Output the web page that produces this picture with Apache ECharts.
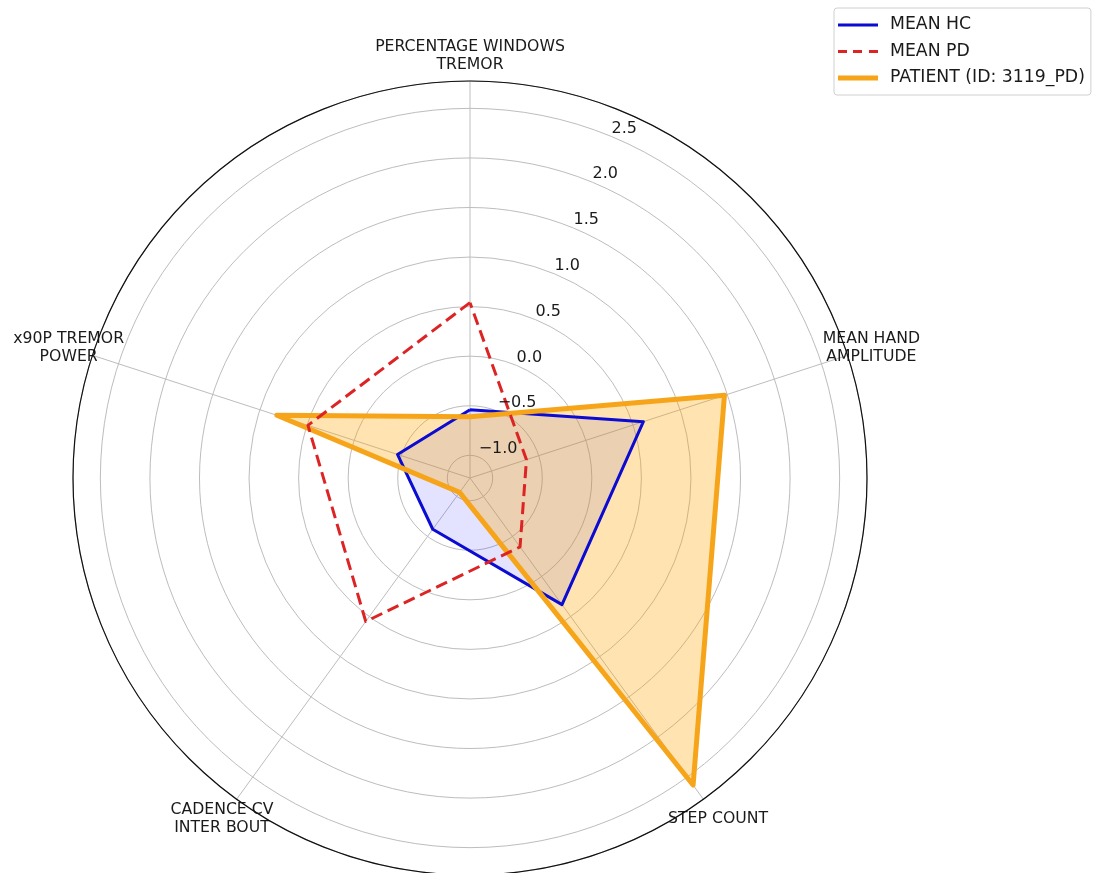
<!DOCTYPE html>
<html><head><meta charset="utf-8">
<script src="https://cdn.jsdelivr.net/npm/echarts@6/dist/echarts.min.js"></script>
<style>html,body{margin:0;padding:0;background:#fff}#chart{width:1096px;height:873px}</style>
</head><body><div id="chart"></div>
<script>
// Axes listed counter-clockwise starting from the top
const categories = ['PERCENTAGE WINDOWS\nTREMOR', 'x90P TREMOR\nPOWER', 'CADENCE CV\nINTER BOUT', 'STEP COUNT', 'MEAN HAND\nAMPLITUDE'];
const meanHC  = [-0.54, -0.46, -0.59, 0.35, 0.61];
const meanPD  = [0.54, 0.49, 0.56, -0.37, -0.63];
const patient = [-0.61, 0.82, -1.05, 2.60, 1.47];
const seriesNames = ['MEAN HC', 'MEAN PD', 'PATIENT (ID: 3119_PD)'];
const radialTicks = [-1.0, -0.5, 0.0, 0.5, 1.0, 1.5, 2.0, 2.5];
const rMin = -1.229, rMax = 2.776;

const FONT = 'DejaVu Sans';
const TXT = '#1a1a1a';
const GRID = '#bdbdbd';
const C = ['#0b0bd2', '#dd2424', '#f6a51a'];
const center = [470, 478];
const R = 397;
const step = 360 / categories.length;

const chart = echarts.init(document.getElementById('chart'), null, {renderer: 'canvas'});
const fmtTick = v => radialTicks.some(t => Math.abs(t - v) < 1e-6) ? Number(v).toFixed(1).replace('-', '\u2212') : '';

const radarCommon = {type: 'radar', symbol: 'none', silent: true};

chart.setOption({
  animation: false,
  backgroundColor: '#fff',
  legend: {
    orient: 'vertical', left: 834, top: 8,
    padding: [7, 6, 7, 4],
    backgroundColor: '#fff', borderColor: '#d0d0d0', borderWidth: 1, borderRadius: 3,
    itemWidth: 40, itemHeight: 14, itemGap: 6.5,
    textStyle: {fontFamily: FONT, fontSize: 17.3, color: TXT, lineHeight: 20, padding: [0, 0, 0, 7]},
    data: [
      {name: seriesNames[0], icon: 'path://M0,0H40V3H0Z', itemStyle: {color: C[0]}},
      {name: seriesNames[1], icon: 'path://M0,0H9V3H0Z M15,0H24V3H15Z M31,0H40V3H31Z', itemStyle: {color: C[1]}},
      {name: seriesNames[2], icon: 'path://M0,0H40V5H0Z', itemStyle: {color: C[2]}}
    ]
  },
  polar: [
    {center: center, radius: R},
    {center: center, radius: R}
  ],
  angleAxis: [
    {
      polarIndex: 0, type: 'value', min: 0, max: 360, interval: step,
      startAngle: 90, clockwise: false,
      axisLine: {show: true, lineStyle: {color: '#111', width: 1.2}},
      axisTick: {show: false},
      axisLabel: {show: false},
      splitLine: {show: true, lineStyle: {color: GRID, width: 1}}
    },
    {
      polarIndex: 1, type: 'value', min: 0, max: 360, startAngle: 67.5,
      axisLine: {show: false}, axisTick: {show: false}, axisLabel: {show: false}, splitLine: {show: false}
    }
  ],
  radiusAxis: [
    {
      polarIndex: 0, type: 'value', min: rMin, max: rMax, splitNumber: 8,
      axisLine: {show: false}, axisTick: {show: false}, axisLabel: {show: false},
      splitLine: {show: true, lineStyle: {color: GRID, width: 1}}
    },
    {
      polarIndex: 1, type: 'value', min: rMin, max: rMax, splitNumber: 8, z: 10,
      axisLine: {show: false}, axisTick: {show: false}, splitLine: {show: false},
      axisLabel: {show: true, margin: 0, align: 'left', verticalAlign: 'bottom', rotate: 0,
        showMinLabel: false, showMaxLabel: false,
        fontFamily: FONT, fontSize: 16, color: TXT, formatter: fmtTick}
    }
  ],
  radar: {
    center: center, radius: R, startAngle: 90, shape: 'circle',
    indicator: categories.map(n => ({name: n, min: rMin, max: rMax})),
    axisName: {show: false},
    axisLine: {show: false}, axisTick: {show: false}, axisLabel: {show: false},
    splitLine: {show: false}, splitArea: {show: false}
  },
  series: [
    Object.assign({}, radarCommon, {
      z: 2,
      data: [
        {name: seriesNames[0], value: meanHC, itemStyle: {color: C[0]},
          lineStyle: {width: 0, opacity: 0}, areaStyle: {color: 'rgba(0,0,255,0.11)', opacity: 1}},
        {name: seriesNames[2], value: patient, itemStyle: {color: C[2]},
          lineStyle: {width: 0, opacity: 0}, areaStyle: {color: 'rgba(255,165,0,0.3)', opacity: 1}}
      ]
    }),
    Object.assign({}, radarCommon, {
      z: 3,
      data: [
        {name: seriesNames[0], value: meanHC, itemStyle: {color: C[0]},
          lineStyle: {color: C[0], width: 3}},
        {name: seriesNames[2], value: patient, itemStyle: {color: C[2]},
          lineStyle: {color: C[2], width: 5}},
        {name: seriesNames[1], value: meanPD, itemStyle: {color: C[1]},
          lineStyle: {color: C[1], width: 3, type: [12, 6]}}
      ]
    })
  ]
});

// Category labels: centred just outside the outer circle, placed through the polar scale
const rLabel = rMin + (422 / R) * (rMax - rMin);
const labels = categories.map((name, i) => {
  let p = chart.convertToPixel({polarIndex: 0}, [rLabel, i * step]);
  return {
    type: 'text', x: p[0], y: p[1], silent: true,
    style: {text: name, align: 'center', verticalAlign: 'middle',
      fontFamily: FONT, fontSize: 15.7, lineHeight: 18, fill: TXT}
  };
});
chart.setOption({graphic: labels});
</script></body></html>
